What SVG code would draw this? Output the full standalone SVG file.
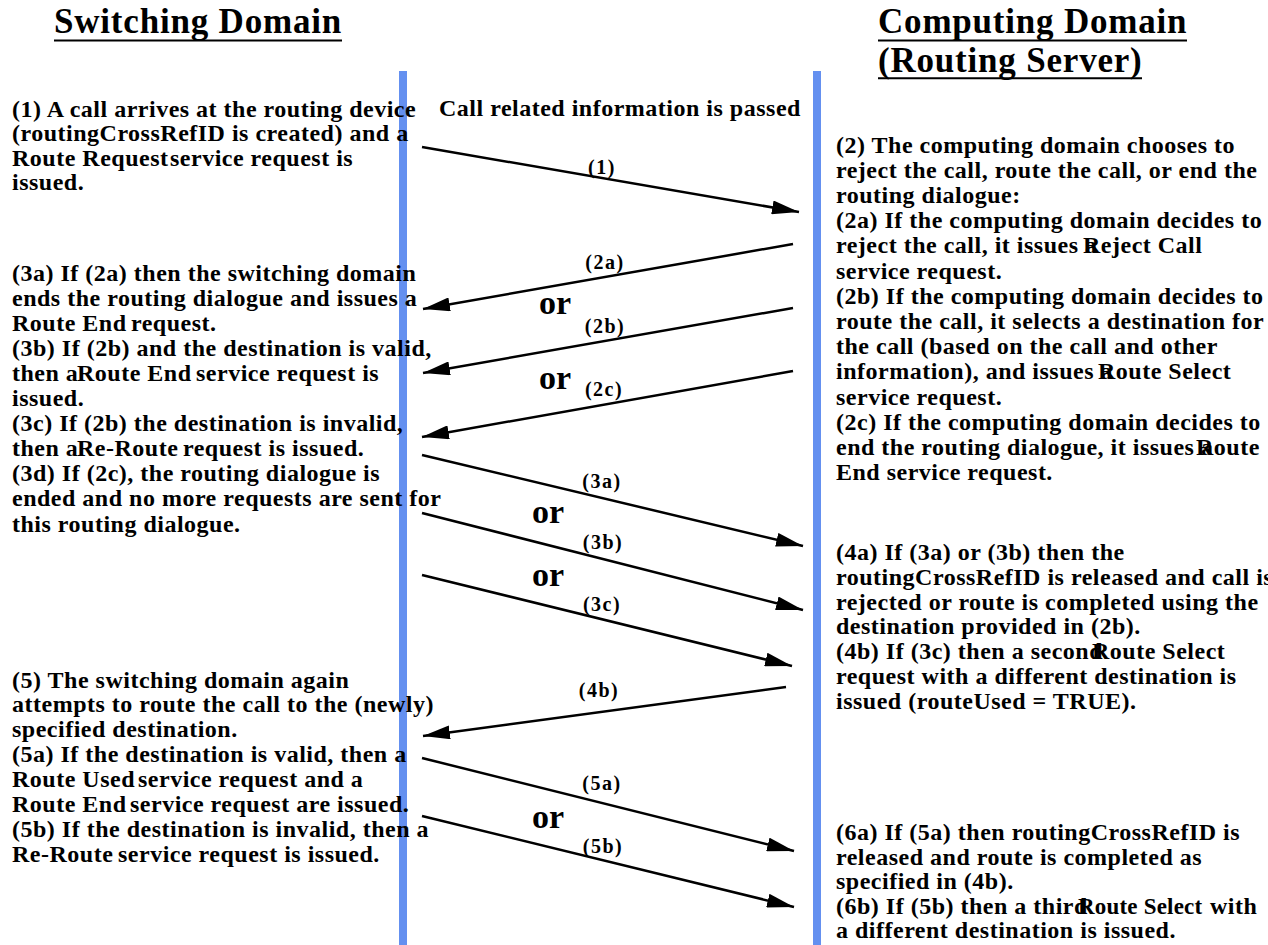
<svg xmlns="http://www.w3.org/2000/svg" width="1268" height="945" viewBox="0 0 1268 945">
<style>
text{font-family:"Liberation Serif","Times New Roman",serif;font-weight:bold;fill:#000}
.h{font-size:35px;letter-spacing:0.8px}
.t{font-size:24px;letter-spacing:0.5px}
.l{font-size:20px;letter-spacing:1.5px;text-anchor:middle}
.or{font-size:34px}
.sm{font-size:23px;letter-spacing:0.2px}
.bar{fill:#6490f0}
.ul{stroke:#000;stroke-width:2}
.msg{fill:none;stroke:#000;stroke-width:2.5;marker-end:url(#ah)}
</style>
<defs>
<marker id="ah" markerUnits="userSpaceOnUse" markerWidth="28" markerHeight="14" refX="27" refY="7" orient="auto" viewBox="0 0 28 14">
<path d="M0,0 L27,7 L0,14 Z" fill="#000"/>
</marker>
</defs>
<rect width="1268" height="945" fill="#fff"/>

<g id="switching-domain">
<text class="h" x="54" y="33">Switching Domain</text>
<line class="ul" x1="54" y1="40.5" x2="342" y2="40.5"/>
<rect class="bar" x="399" y="71" width="8" height="874"/>
</g>

<g id="computing-domain">
<text class="h" x="878" y="33">Computing Domain</text>
<line class="ul" x1="878" y1="40.5" x2="1187" y2="40.5"/>
<text class="h" x="878" y="71.5">(Routing Server)</text>
<line class="ul" x1="878" y1="78.3" x2="1142" y2="78.3"/>
<rect class="bar" x="813" y="71" width="8" height="874"/>
</g>

<g id="caption">
<text class="t" x="439" y="115.7">Call related information is passed</text>
</g>

<g id="note-1">
<text class="t" x="12" y="116.5">(1) A call arrives at the routing device</text>
<text class="t" x="12" y="141">(routingCrossRefID is created) and a</text>
<text class="t" x="12" y="165.5">Route Request<tspan x="170">service request is</tspan></text>
<text class="t" x="12" y="190">issued.</text>
</g>

<g id="note-3">
<text class="t" x="12" y="280.5">(3a) If (2a) then the switching domain</text>
<text class="t" x="12" y="305.6">ends the routing dialogue and issues a</text>
<text class="t" x="12" y="330.7">Route End<tspan x="131">request.</tspan></text>
<text class="t" x="12" y="355.8">(3b) If (2b) and the destination is valid,</text>
<text class="t" x="12" y="380.9">then a<tspan x="77">Route End</tspan><tspan x="196">service request is</tspan></text>
<text class="t" x="12" y="406">issued.</text>
<text class="t" x="12" y="431.1">(3c) If (2b) the destination is invalid,</text>
<text class="t" x="12" y="456.2">then a<tspan x="77">Re-Route</tspan><tspan x="183">request is issued.</tspan></text>
<text class="t" x="12" y="481.3">(3d) If (2c), the routing dialogue is</text>
<text class="t" x="12" y="506.4">ended and no more requests are sent for</text>
<text class="t" x="12" y="531.5">this routing dialogue.</text>
</g>

<g id="note-5">
<text class="t" x="12" y="687.5">(5) The switching domain again</text>
<text class="t" x="12" y="712.4">attempts to route the call to the (newly)</text>
<text class="t" x="12" y="737.3">specified destination.</text>
<text class="t" x="12" y="762.2">(5a) If the destination is valid, then a</text>
<text class="t" x="12" y="787.1">Route Used<tspan x="138">service request and a</tspan></text>
<text class="t" x="12" y="812">Route End<tspan x="130">service request are issued.</tspan></text>
<text class="t" x="12" y="836.9">(5b) If the destination is invalid, then a</text>
<text class="t" x="12" y="861.8">Re-Route<tspan x="118">service request is issued.</tspan></text>
</g>

<g id="note-2">
<text class="t" x="836" y="152.5">(2) The computing domain chooses to</text>
<text class="t" x="836" y="177.7">reject the call, route the call, or end the</text>
<text class="t" x="836" y="202.9">routing dialogue:</text>
<text class="t" x="836" y="228.1">(2a) If the computing domain decides to</text>
<text class="t" x="836" y="253.3">reject the call, it issues a<tspan x="1083">Reject Call</tspan></text>
<text class="t" x="836" y="278.5">service request.</text>
<text class="t" x="836" y="303.7">(2b) If the computing domain decides to</text>
<text class="t" x="836" y="328.9">route the call, it selects a destination for</text>
<text class="t" x="836" y="354.1">the call (based on the call and other</text>
<text class="t" x="836" y="379.3">information), and issues a<tspan x="1098">Route Select</tspan></text>
<text class="t" x="836" y="404.5">service request.</text>
<text class="t" x="836" y="429.7">(2c) If the computing domain decides to</text>
<text class="t" x="836" y="454.9">end the routing dialogue, it issues a<tspan x="1196">Route</tspan></text>
<text class="t" x="836" y="480.1">End service request.</text>
</g>

<g id="note-4">
<text class="t" x="836" y="560">(4a) If (3a) or (3b) then the</text>
<text class="t" x="836" y="584.8">routingCrossRefID is released and call is</text>
<text class="t" x="836" y="609.6">rejected or route is completed using the</text>
<text class="t" x="836" y="634.4">destination provided in (2b).</text>
<text class="t" x="836" y="659.2">(4b) If (3c) then a second<tspan x="1092">Route Select</tspan></text>
<text class="t" x="836" y="684">request with a different destination is</text>
<text class="t" x="836" y="708.8">issued (routeUsed = TRUE).</text>
</g>

<g id="note-6">
<text class="t" x="836" y="840">(6a) If (5a) then routingCrossRefID is</text>
<text class="t" x="836" y="864.6">released and route is completed as</text>
<text class="t" x="836" y="889.2">specified in (4b).</text>
<text class="t" x="836" y="913.8">(6b) If (5b) then a third<tspan class="sm" x="1078">Route Select</tspan><tspan x="1210">with</tspan></text>
<text class="t" x="836" y="938.4">a different destination is issued.</text>
</g>

<g id="connectors">
<path class="msg" d="M422,147 L799,212"/>
<path class="msg" d="M793,244 L423,309"/>
<path class="msg" d="M793,308 L423,373"/>
<path class="msg" d="M793,371 L422,437"/>
<path class="msg" d="M422,455 L803,546"/>
<path class="msg" d="M422,513 L803,610"/>
<path class="msg" d="M422,575 L792,666"/>
<path class="msg" d="M786,687 L423,736"/>
<path class="msg" d="M422,758 L794,851"/>
<path class="msg" d="M422,816 L794,907"/>
<text class="l" x="602" y="174">(1)</text>
<text class="l" x="605" y="269">(2a)</text>
<text class="l" x="605" y="333">(2b)</text>
<text class="l" x="604" y="396">(2c)</text>
<text class="l" x="602" y="488">(3a)</text>
<text class="l" x="603" y="549">(3b)</text>
<text class="l" x="602" y="611">(3c)</text>
<text class="l" x="599" y="697">(4b)</text>
<text class="l" x="602" y="790">(5a)</text>
<text class="l" x="603" y="853">(5b)</text>
<text class="or" x="539" y="314">or</text>
<text class="or" x="539" y="389">or</text>
<text class="or" x="532" y="523">or</text>
<text class="or" x="532" y="586">or</text>
<text class="or" x="532" y="828">or</text>
</g>
</svg>
